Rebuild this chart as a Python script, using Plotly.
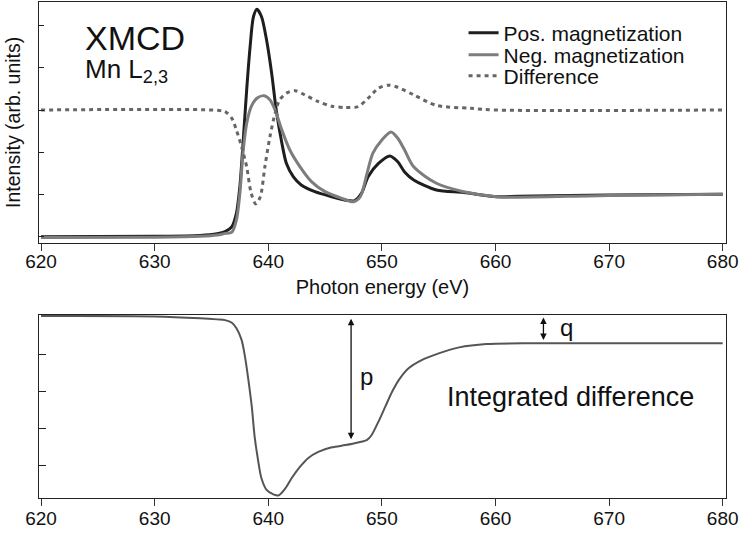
import plotly.graph_objects as go
from plotly.subplots import make_subplots

# ---------------- data ----------------
pos_energy = [620, 630, 634, 635.5, 636.2, 636.8, 637.2, 637.5, 637.8, 638.1, 638.4, 638.7,
              639.0, 639.4, 639.85, 640.3, 640.7, 641.2, 641.6, 642.2, 642.9, 644.1, 645.6,
              647.0, 647.6, 648.2, 648.8, 649.7, 650.7, 651.4, 652.0, 652.8, 654.8, 657.2,
              660.1, 662, 670, 680]
pos_intensity = [-0.01, 0.0, 0.02, 0.06, 0.11, 0.23, 0.55, 1.18, 2.29, 3.48, 4.50, 5.22,
                 5.39, 5.22, 4.66, 3.87, 3.00, 2.21, 1.73, 1.42, 1.22, 1.06, 0.94,
                 0.85, 0.85, 1.02, 1.42, 1.73, 1.91, 1.77, 1.53, 1.34, 1.10, 1.04,
                 0.94, 0.95, 0.98, 1.0]

neg_energy = [620, 630, 634, 635.5, 636.2, 636.8, 637.2, 637.5, 637.8, 638.1, 638.5, 639.0,
              639.65, 640.15, 640.6, 641.2, 641.9, 642.8, 643.8, 645.0, 646.5, 647.5, 648.1,
              648.7, 649.2, 650.0, 650.8, 651.4, 652.0, 652.8, 654.8, 657.2, 660.1, 661.6,
              670, 680]
neg_intensity = [-0.03, -0.02, 0.0, 0.03, 0.07, 0.10, 0.39, 1.02, 2.05, 2.68, 3.08, 3.28,
                 3.34, 3.24, 3.00, 2.52, 2.05, 1.65, 1.30, 1.06, 0.90, 0.82, 0.94,
                 1.50, 1.97, 2.29, 2.48, 2.33, 2.05, 1.65, 1.26, 1.06, 0.94, 0.93,
                 0.97, 1.0]

diff_energy = [620, 635, 636.2, 636.8, 637.2, 637.65, 638.1, 638.5, 638.9, 639.3, 639.7,
               640.15, 640.6, 641.0, 641.6, 642.35, 643.2, 644.4, 645.6, 646.75, 647.9,
               648.8, 649.7, 650.6, 651.4, 652.8, 654.8, 657.8, 660, 680]
diff_intensity = [3.0, 3.0, 2.96, 2.80, 2.52, 2.13, 1.65, 1.02, 0.77, 0.94, 1.65,
                  2.37, 2.92, 3.24, 3.40, 3.46, 3.36, 3.20, 3.09, 3.06, 3.08,
                  3.28, 3.52, 3.59, 3.54, 3.36, 3.11, 3.04, 3.0, 3.0]

int_energy = [620, 630, 634, 635.5, 636.2, 636.8, 637.2, 637.65, 637.95, 638.25, 638.55,
              638.8, 639.1, 639.4, 639.85, 640.45, 640.9, 641.5, 642.05, 642.8, 643.5,
              644.4, 645.6, 646.8, 647.9, 648.7, 649.1, 649.7, 650.3, 650.9, 651.5,
              652.35, 653.5, 655.0, 656.8, 659.2, 663.6, 680]
int_value = [4.02, 4.01, 3.96, 3.93, 3.91, 3.84, 3.69, 3.38, 2.93, 2.31, 1.59,
             0.79, 0.16, -0.33, -0.64, -0.76, -0.79, -0.60, -0.33, -0.02, 0.21,
             0.38, 0.50, 0.56, 0.63, 0.70, 0.83, 1.19, 1.59, 1.99, 2.31,
             2.62, 2.84, 3.02, 3.18, 3.27, 3.29, 3.29]

x_ticks = [620, 630, 640, 650, 660, 670, 680]
top_y_ticks = [0, 1, 2, 3, 4, 5]
bottom_y_ticks = [0, 1, 2, 3]

# p / q markers (energy, lower end, upper end)
p_energy, p_low, p_high = 647.29, 0.72, 3.99
q_energy, q_low, q_high = 664.22, 3.38, 4.02

FONT = "Liberation Sans, Arial, Helvetica, sans-serif"

fig = make_subplots(rows=2, cols=1, shared_xaxes=False, vertical_spacing=0.05)

fig.add_trace(go.Scatter(x=pos_energy, y=pos_intensity, mode="lines", name="Pos. magnetization",
                         legend="legend",
                         line=dict(color="#1e1e1e", width=3, shape="spline", smoothing=0.8)),
              row=1, col=1)
fig.add_trace(go.Scatter(x=neg_energy, y=neg_intensity, mode="lines", name="Neg. magnetization",
                         legend="legend2",
                         line=dict(color="#7d7d7d", width=3, shape="spline", smoothing=0.8)),
              row=1, col=1)
fig.add_trace(go.Scatter(x=diff_energy, y=diff_intensity, mode="lines", name="Difference",
                         legend="legend3",
                         line=dict(color="#666666", width=3, dash="4px,4px",
                                   shape="spline", smoothing=0.8)),
              row=1, col=1)
fig.add_trace(go.Scatter(x=int_energy, y=int_value, mode="lines", name="Integrated difference",
                         showlegend=False,
                         line=dict(color="#555555", width=2, shape="spline", smoothing=0.8)),
              row=2, col=1)

xaxis_common = dict(range=[619.82, 680.29], tickvals=x_ticks, ticks="outside", ticklen=7,
                    tickcolor="#333", tickwidth=1, showline=True, linecolor="#222",
                    linewidth=1, mirror=True, showgrid=False, zeroline=False,
                    tickfont=dict(family=FONT, size=19, color="#111"))
fig.update_xaxes(**xaxis_common)
fig.update_xaxes(ticklabelstandoff=-6,
                 title=dict(text="Photon energy (eV)", font=dict(family=FONT, size=20, color="#111"),
                            standoff=9), row=1, col=1)
fig.update_xaxes(ticklabelstandoff=-4, row=2, col=1)

fig.update_yaxes(showline=True, linecolor="#222", linewidth=1, mirror=True, showgrid=False,
                 zeroline=False, ticks="inside", tickcolor="#222", showticklabels=False)
fig.update_yaxes(range=[-0.152, 5.565], tickvals=top_y_ticks, ticklen=5,
                 title=dict(text="Intensity (arb. units)", standoff=12,
                            font=dict(family=FONT, size=19.5, color="#111")),
                 row=1, col=1)
fig.update_yaxes(range=[-0.858, 4.048], tickvals=bottom_y_ticks, ticklen=7, row=2, col=1)

legend_style = dict(xanchor="left", yanchor="middle", x=0.618,
                    font=dict(family=FONT, size=21, color="#111"),
                    bgcolor="rgba(0,0,0,0)", borderwidth=0)
fig.update_layout(
    width=741, height=534,
    margin=dict(l=39, r=15, t=2, b=36),
    paper_bgcolor="white", plot_bgcolor="white",
    font=dict(family=FONT, color="#111"),
    legend=dict(y=0.9375, **legend_style),
    legend2=dict(y=0.8931, **legend_style),
    legend3=dict(y=0.8508, **legend_style),
)
fig.update_layout(yaxis=dict(domain=[0.5147, 1.0]), yaxis2=dict(domain=[0.0, 0.369]))

# texts
fig.add_annotation(x=623.7, y=4.72, xref="x", yref="y", text="XMCD", showarrow=False,
                   xanchor="left", yanchor="middle", font=dict(family=FONT, size=34, color="#111"))
fig.add_annotation(x=623.7, y=3.93, xref="x", yref="y", text="Mn L<sub>2,3</sub>", showarrow=False,
                   xanchor="left", yanchor="middle", font=dict(family=FONT, size=26, color="#111"))
fig.add_annotation(x=666.57, y=1.85, xref="x2", yref="y2", text="Integrated difference",
                   showarrow=False, xanchor="center", yanchor="middle",
                   font=dict(family=FONT, size=27, color="#111"))
fig.add_annotation(x=647.9, y=2.39, xref="x2", yref="y2", text="p", showarrow=False,
                   xanchor="left", yanchor="middle", font=dict(family=FONT, size=24, color="#111"))
fig.add_annotation(x=665.5, y=3.72, xref="x2", yref="y2", text="q", showarrow=False,
                   xanchor="left", yanchor="middle", font=dict(family=FONT, size=24, color="#111"))

# double-headed arrows
for e, lo, hi in [(p_energy, p_low, p_high), (q_energy, q_low, q_high)]:
    fig.add_annotation(x=e, y=lo, ax=e, ay=hi, xref="x2", yref="y2", axref="x2", ayref="y2",
                       text="", showarrow=True, arrowhead=2, startarrowhead=2,
                       arrowside="end+start", arrowsize=1, startarrowsize=1,
                       arrowwidth=1.3, arrowcolor="#111", standoff=0, startstandoff=0)

fig.write_html("out.html")
